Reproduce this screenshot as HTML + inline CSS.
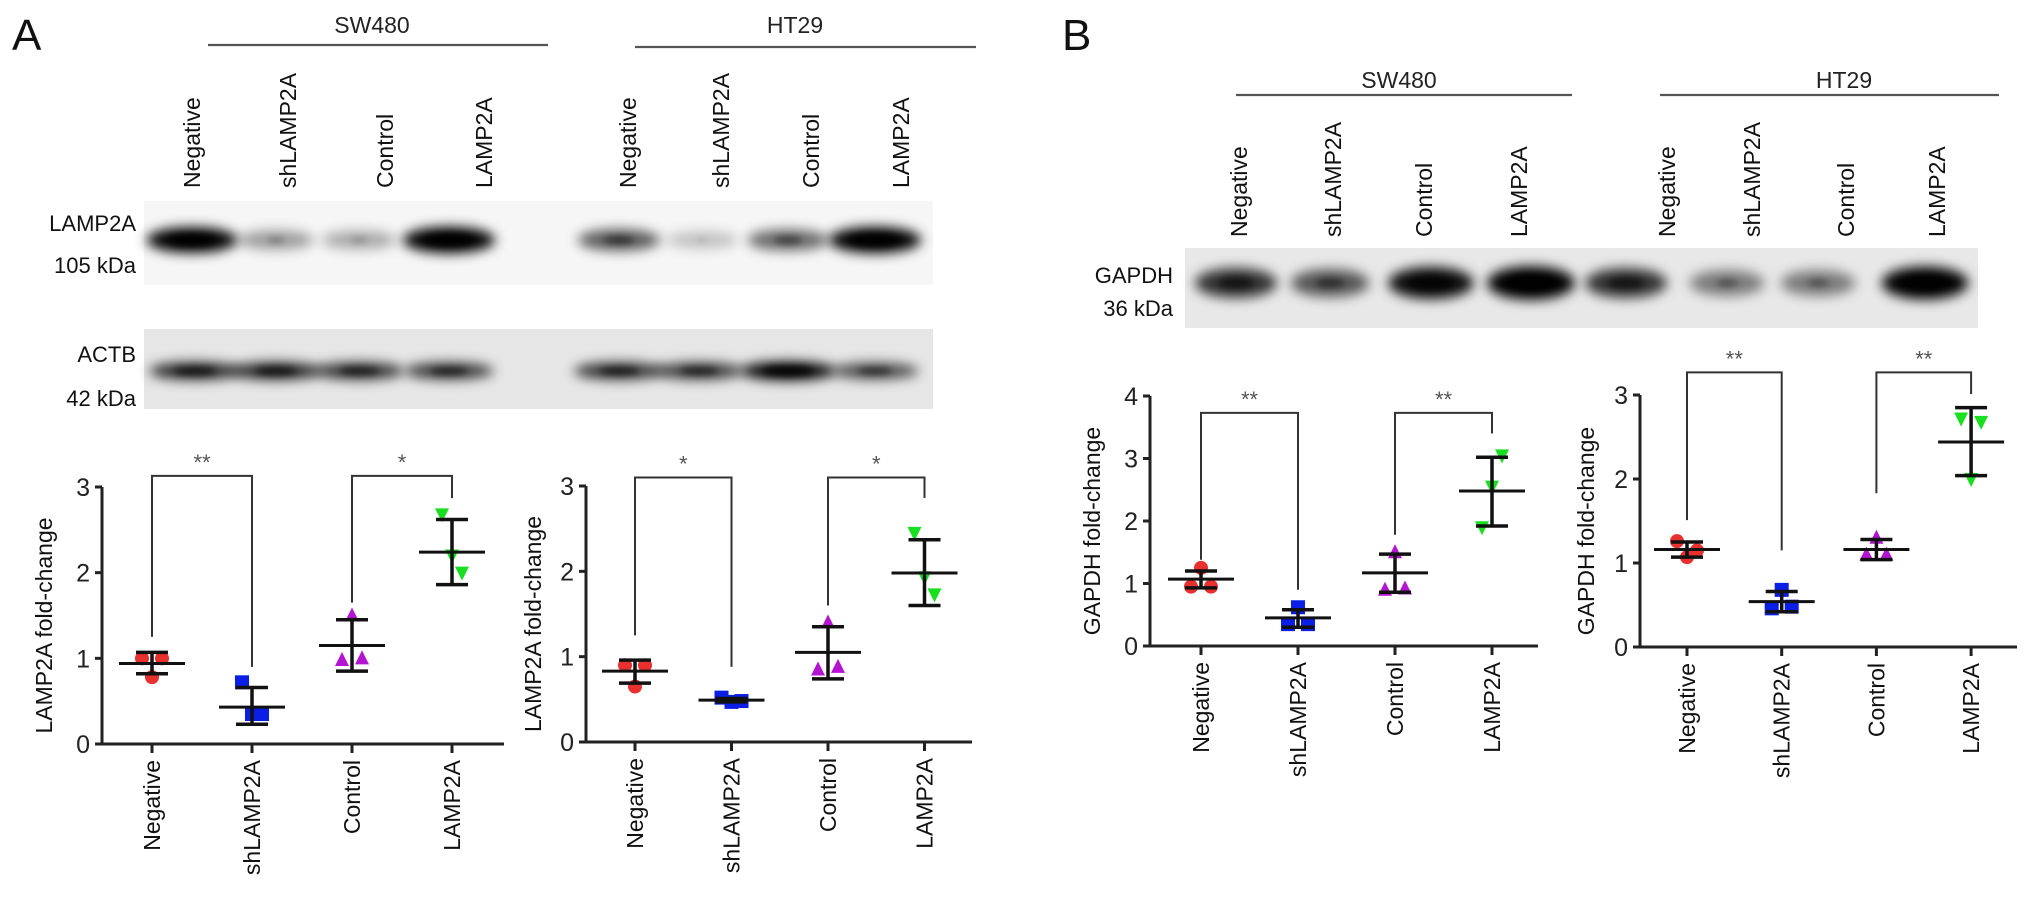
<!DOCTYPE html>
<html><head><meta charset="utf-8">
<style>
html,body{margin:0;padding:0;background:#fff;}
svg{display:block;font-family:"Liberation Sans",Arial,sans-serif;}
</style></head>
<body>
<svg id="fig" width="2032" height="897" viewBox="0 0 2032 897" xmlns="http://www.w3.org/2000/svg">
<defs>
<filter id="blur6" x="-50%" y="-100%" width="200%" height="300%"><feGaussianBlur stdDeviation="6"/></filter>
<filter id="blur3" x="-50%" y="-100%" width="200%" height="300%"><feGaussianBlur stdDeviation="3.5"/></filter>
</defs>
<g id="blots"></g>
<g id="charts"></g>
</svg>
<script>
// ---- data ----
const groups = ["Negative","shLAMP2A","Control","LAMP2A"];
const markerShapes = ["circle","square","up","down"];
const markerColors = ["#e8302f","#0a1ee6","#b414d2","#18e020"];

const c1Ticks = [0,1,2,3];
const c1Means = [0.94,0.43,1.15,2.24];
const c1Upper = [1.07,0.66,1.45,2.62];
const c1Lower = [0.82,0.23,0.85,1.86];
const c1Points = [[1.0,0.78,1.0],[0.72,0.35,0.35],[0.98,1.5,1.0],[2.68,2.2,2.0]];
const c1BracketTop = [3.13,3.13];
const c1Legs = [1.25,0.9,1.65,2.87];
const c1Stars = ["**","*"];

const c2Ticks = [0,1,2,3];
const c2Means = [0.83,0.49,1.05,1.98];
const c2Upper = [0.96,0.51,1.35,2.37];
const c2Lower = [0.69,0.47,0.74,1.6];
const c2Points = [[0.9,0.65,0.9],[0.52,0.47,0.48],[0.85,1.4,0.88],[2.45,1.93,1.73]];
const c2BracketTop = [3.1,3.1];
const c2Legs = [1.25,0.88,1.6,2.86];
const c2Stars = ["*","*"];

const c3Ticks = [0,1,2,3,4];
const c3Means = [1.07,0.45,1.17,2.48];
const c3Upper = [1.2,0.58,1.47,3.02];
const c3Lower = [0.93,0.3,0.86,1.92];
const c3Points = [[0.95,1.25,0.95],[0.35,0.62,0.35],[0.9,1.5,0.92],[1.9,2.55,3.05]];
const c3BracketTop = [3.73,3.73];
const c3Legs = [1.38,0.9,1.78,3.4];
const c3Stars = ["**","**"];

const c4Ticks = [0,1,2,3];
const c4Means = [1.16,0.54,1.16,2.44];
const c4Upper = [1.25,0.66,1.28,2.85];
const c4Lower = [1.07,0.42,1.04,2.04];
const c4Points = [[1.26,1.07,1.15],[0.46,0.68,0.48],[1.1,1.3,1.1],[2.72,2.0,2.68]];
const c4BracketTop = [3.27,3.27];
const c4Legs = [1.51,1.15,1.83,3.01];
const c4Stars = ["**","**"];

// band intensities (0..1)
const lampBands = [0.95,0.35,0.3,1.0,0.6,0.2,0.55,1.0];
const actbBands = [0.8,0.8,0.75,0.72,0.75,0.72,0.95,0.65];
const gapdhBands = [0.75,0.6,0.9,1.0,0.75,0.45,0.45,0.95];

// ---- helpers ----
const NS = "http://www.w3.org/2000/svg";
const svg = document.getElementById("fig");
const chartsG = document.getElementById("charts");
const blotsG = document.getElementById("blots");
function mk(tag, attrs, parent){
  const e = document.createElementNS(NS, tag);
  for (const k in attrs) e.setAttribute(k, attrs[k]);
  (parent||svg).appendChild(e);
  return e;
}
function txt(str, attrs, parent){
  const e = mk("text", attrs, parent);
  e.textContent = str;
  return e;
}

// ---- panel letters & headers ----
let t;
t = txt("A",{x:12,y:50,"font-size":44,fill:"#111"});  
t = txt("B",{x:1062,y:50,"font-size":44,fill:"#111"});  

function header(label, cx, cy, x1, x2, ly, name){
  const g = mk("g",{}, blotsG);
  
  
  txt(label,{x:cx,y:cy,"font-size":23,"text-anchor":"middle",fill:"#222"},g);
  mk("line",{x1:x1,x2:x2,y1:ly,y2:ly,stroke:"#555","stroke-width":2.2},g);
}
header("SW480",372,33,208,548,45,"header-a-sw480");
header("HT29",795,33,635,976,47,"header-a-ht29");
header("SW480",1399,88,1236,1572,95,"header-b-sw480");
header("HT29",1844,88,1660,1999,95,"header-b-ht29");

function laneLabels(xs, bottom, name){
  const g = mk("g",{}, blotsG);
  
  
  xs.forEach((x,i)=>{
    const lab = groups[i%4];
    const e = txt(lab,{x:0,y:0,"font-size":23,fill:"#111","text-anchor":"start",transform:`translate(${x+8},${bottom}) rotate(-90)`},g);
    
    
  });
}
laneLabels([192,288,385,484,628,721,811,901],188,"lane-labels-a");
laneLabels([1239,1333,1424,1519,1667,1752,1846,1937],237,"lane-labels-b");

function blot(x,y,w,h,bg,lanes,ints,bandY,rx,ry,name,labels){
  const g = mk("g",{}, blotsG);
  
  
  mk("rect",{x:x,y:y,width:w,height:h,fill:bg},g);
  lanes.forEach((lx,i)=>{
    const v = ints[i];
    const e = mk("ellipse",{cx:lx,cy:bandY,rx:rx*(0.8+0.3*v),ry:ry*(0.7+0.5*v),fill:"#000","fill-opacity":Math.min(1,v*1.05),filter:"url(#blur6)"},g);
    
    
    const c = mk("ellipse",{cx:lx,cy:bandY,rx:rx*0.6*v,ry:ry*0.45*v+1,fill:"#000","fill-opacity":v*0.8,filter:"url(#blur3)"},g);
  });
  labels.forEach(l=>{
    txt(l[0],{x:l[1],y:l[2],"font-size":22,"text-anchor":"end",fill:"#111"},g);
  });
}
blot(144,201,789,84,"#f6f6f6",[192,276,359,449,619,702,788,875],lampBands,240,42,11,"blot-lamp2a",[["LAMP2A",136,231],["105 kDa",136,273]]);
blot(144,329,789,80,"#e6e6e6",[195,276,359,449,619,699,788,875],actbBands,371,44,8,"blot-actb",[["ACTB",136,362],["42 kDa",136,406]]);
blot(1185,248,793,80,"#e8e8e8",[1236,1330,1431,1531,1626,1727,1818,1925],gapdhBands,283,40,14,"blot-gapdh",[["GAPDH",1173,283],["36 kDa",1173,316]]);

// ---- scatter charts ----
function chart(cfg, ticks, means, upper, lower, points, btop, legs, stars){
  const g = mk("g",{}, chartsG);
  
  
  const yMax = ticks[ticks.length-1];
  const ys = v => cfg.y0 - (cfg.y0 - cfg.yTop) * v / yMax;
  const xs = i => cfg.gx0 + cfg.gdx * i;
  // axes
  const ya = mk("line",{x1:cfg.ax,x2:cfg.ax,y1:cfg.yTop,y2:cfg.y0,stroke:"#222","stroke-width":3},g);
   
  const xa = mk("line",{x1:cfg.ax,x2:cfg.xEnd,y1:cfg.y0,y2:cfg.y0,stroke:"#222","stroke-width":3},g);
   
  ticks.forEach(v=>{
    mk("line",{x1:cfg.ax-7,x2:cfg.ax,y1:ys(v),y2:ys(v),stroke:"#222","stroke-width":3},g);
    const tl = txt(String(v),{x:cfg.ax-12,y:ys(v)+9,"font-size":25,"text-anchor":"end",fill:"#222"},g);
     
  });
  const yt = txt(cfg.title,{x:0,y:0,"font-size":23,"text-anchor":"middle",fill:"#111",transform:`translate(${cfg.titleX},${(cfg.yTop+cfg.y0)/2+10}) rotate(-90)`},g);
   
  groups.forEach((lab,i)=>{
    mk("line",{x1:xs(i),x2:xs(i),y1:cfg.y0,y2:cfg.y0+9,stroke:"#222","stroke-width":3},g);
    const xl = txt(lab,{x:0,y:0,"font-size":23,"text-anchor":"end",fill:"#111",transform:`translate(${xs(i)+8},${cfg.y0+16}) rotate(-90)`},g);
     
  });
  // brackets
  [[0,1],[2,3]].forEach((p,k)=>{
    const a = xs(p[0]), b = xs(p[1]), top = ys(btop[k]);
    const br = mk("polyline",{points:`${a},${ys(legs[p[0]])} ${a},${top} ${b},${top} ${b},${ys(legs[p[1]])}`,fill:"none",stroke:"#333","stroke-width":2},g);
     
    const st = txt(stars[k],{x:(a+b)/2,y:top-6,"font-size":22,"text-anchor":"middle",fill:"#555"},g);
     
  });
  // points
  const jit = [-10,0,10];
  points.forEach((arr,i)=>{
    arr.forEach((v,j)=>{
      const cx = xs(i)+jit[j], cy = ys(v), s = 7, col = markerColors[i];
      let m;
      if (markerShapes[i]==="circle") m = mk("circle",{cx:cx,cy:cy,r:s,fill:col},g);
      else if (markerShapes[i]==="square") m = mk("rect",{x:cx-s,y:cy-s,width:2*s,height:2*s,fill:col},g);
      else if (markerShapes[i]==="up") m = mk("polygon",{points:`${cx},${cy-s-1} ${cx-s},${cy+s-1} ${cx+s},${cy+s-1}`,fill:col},g);
      else m = mk("polygon",{points:`${cx},${cy+s+1} ${cx-s},${cy-s+1} ${cx+s},${cy-s+1}`,fill:col},g);
      
      
    });
  });
  // mean & sd
  means.forEach((v,i)=>{
    const x = xs(i);
    const e1 = mk("line",{x1:x,x2:x,y1:ys(upper[i]),y2:ys(lower[i]),stroke:"#111","stroke-width":3.5},g);
     
    mk("line",{x1:x-16,x2:x+16,y1:ys(upper[i]),y2:ys(upper[i]),stroke:"#111","stroke-width":3.5},g);
    mk("line",{x1:x-16,x2:x+16,y1:ys(lower[i]),y2:ys(lower[i]),stroke:"#111","stroke-width":3.5},g);
    const ml = mk("line",{x1:x-33,x2:x+33,y1:ys(v),y2:ys(v),stroke:"#111","stroke-width":3},g);
     
  });
}
chart({name:"chart-a-sw480",ax:102,xEnd:504,y0:744,yTop:487,gx0:152,gdx:100,titleX:52,title:"LAMP2A fold-change"},c1Ticks,c1Means,c1Upper,c1Lower,c1Points,c1BracketTop,c1Legs,c1Stars);
chart({name:"chart-a-ht29",ax:586,xEnd:972,y0:742,yTop:486,gx0:635,gdx:96.5,titleX:541,title:"LAMP2A fold-change"},c2Ticks,c2Means,c2Upper,c2Lower,c2Points,c2BracketTop,c2Legs,c2Stars);
chart({name:"chart-b-sw480",ax:1150,xEnd:1538,y0:646,yTop:396,gx0:1201,gdx:97,titleX:1100,title:"GAPDH fold-change"},c3Ticks,c3Means,c3Upper,c3Lower,c3Points,c3BracketTop,c3Legs,c3Stars);
chart({name:"chart-b-ht29",ax:1640,xEnd:2017,y0:647,yTop:395,gx0:1687,gdx:94.7,titleX:1594,title:"GAPDH fold-change"},c4Ticks,c4Means,c4Upper,c4Lower,c4Points,c4BracketTop,c4Legs,c4Stars);
</script>
</body></html>
